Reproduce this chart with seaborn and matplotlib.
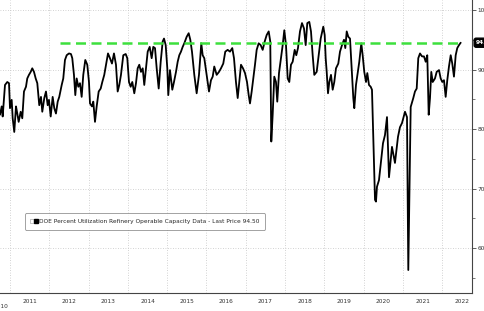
import matplotlib
matplotlib.use("Agg")
import matplotlib.pyplot as plt
import seaborn as sns
import pandas as pd
from matplotlib.lines import Line2D
from matplotlib.legend_handler import HandlerTuple
from matplotlib.ticker import FixedLocator, FixedFormatter

# ---- data (decimal year, percent utilization) ----
t_year = [2010.746, 2010.789, 2010.814, 2010.873, 2010.931, 2010.975, 2011.000, 2011.043, 2011.069, 2011.109,
          2011.153, 2011.186, 2011.221, 2011.272, 2011.313, 2011.356, 2011.407, 2011.440, 2011.483, 2011.527,
          2011.567, 2011.611, 2011.654, 2011.695, 2011.745, 2011.789, 2011.822, 2011.873, 2011.916, 2011.959,
          2011.992, 2012.036, 2012.086, 2012.127, 2012.170, 2012.214, 2012.254, 2012.316, 2012.356, 2012.399,
          2012.443, 2012.501, 2012.552, 2012.585, 2012.628, 2012.662, 2012.697, 2012.738, 2012.781, 2012.824,
          2012.865, 2012.916, 2012.967, 2013.010, 2013.036, 2013.086, 2013.120, 2013.163, 2013.206, 2013.257,
          2013.308, 2013.349, 2013.399, 2013.443, 2013.494, 2013.544, 2013.595, 2013.646, 2013.697, 2013.740,
          2013.781, 2013.824, 2013.883, 2013.944, 2013.985, 2014.028, 2014.071, 2014.112, 2014.163, 2014.206,
          2014.249, 2014.290, 2014.333, 2014.377, 2014.417, 2014.461, 2014.504, 2014.555, 2014.605, 2014.646,
          2014.690, 2014.733, 2014.784, 2014.835, 2014.885, 2014.919,
          2014.962, 2015.003, 2015.028, 2015.071, 2015.130, 2015.173, 2015.224, 2015.267, 2015.308, 2015.351,
          2015.394, 2015.435, 2015.496, 2015.547, 2015.588, 2015.631, 2015.690, 2015.750, 2015.809, 2015.868,
          2015.903, 2015.944, 2016.005, 2016.064, 2016.114, 2016.158, 2016.198, 2016.259, 2016.318, 2016.369,
          2016.427, 2016.478, 2016.539, 2016.598, 2016.656, 2016.700, 2016.750, 2016.794, 2016.834, 2016.878,
          2016.929, 2016.980, 2017.031, 2017.074, 2017.107, 2017.150, 2017.191, 2017.234, 2017.277, 2017.328,
          2017.379, 2017.430, 2017.481, 2017.532, 2017.583, 2017.623, 2017.649, 2017.684, 2017.725, 2017.768,
          2017.801, 2017.845, 2017.896, 2017.939, 2017.980, 2018.023, 2018.066, 2018.107, 2018.150, 2018.193,
          2018.244, 2018.285, 2018.328, 2018.379, 2018.430, 2018.481, 2018.524, 2018.565, 2018.616, 2018.659,
          2018.702, 2018.743, 2018.804, 2018.855, 2018.906, 2018.947,
          2018.972, 2019.008, 2019.033, 2019.059, 2019.092, 2019.125, 2019.168, 2019.211, 2019.252, 2019.295,
          2019.354, 2019.397, 2019.448, 2019.499, 2019.532, 2019.568, 2019.608, 2019.652, 2019.695, 2019.736,
          2019.761, 2019.804, 2019.847, 2019.888, 2019.939, 2019.974, 2020.015, 2020.059, 2020.092, 2020.135,
          2020.178, 2020.211,
          2020.288, 2020.313, 2020.338, 2020.389, 2020.440, 2020.491, 2020.542, 2020.593, 2020.644, 2020.720,
          2020.796, 2020.873, 2020.923, 2020.975, 2021.051, 2021.102, 2021.135, 2021.196,
          2021.262, 2021.305, 2021.349, 2021.389, 2021.433, 2021.484, 2021.534, 2021.578, 2021.618, 2021.654,
          2021.687, 2021.720, 2021.756, 2021.814, 2021.857, 2021.916, 2021.959, 2022.000, 2022.043, 2022.086,
          2022.127, 2022.170, 2022.214, 2022.254, 2022.297, 2022.341, 2022.381, 2022.425, 2022.468]
utilization = [82.4, 83.8, 82.1, 87.4, 87.9, 87.7, 83.5, 84.9, 81.8, 79.5,
               83.8, 82.6, 81.2, 82.9, 81.8, 86.3, 87.1, 88.5, 89.1, 89.6,
               90.2, 89.6, 88.5, 87.7, 84.0, 85.4, 82.9, 85.2, 86.3, 84.0,
               84.9, 82.1, 85.4, 83.5, 82.6, 84.6, 85.4, 87.4, 88.5, 91.6,
               92.4, 92.7, 92.6, 91.9, 89.1, 85.7, 88.5, 87.1, 87.7, 85.4,
               89.1, 91.6, 90.8, 87.9, 84.3, 83.8, 84.6, 81.2, 83.8, 86.3,
               86.8, 87.9, 89.1, 90.8, 92.7, 91.9, 91.0, 92.7, 90.8, 86.3,
               87.4, 89.1, 92.4, 92.6, 91.9, 87.9, 87.1, 87.9, 86.0, 87.7,
               90.2, 90.8, 89.6, 90.2, 87.4, 90.2, 93.0, 93.8, 91.9, 93.8,
               93.6, 90.2, 86.8, 91.3, 94.7, 95.2,
               94.1, 90.2, 85.7, 89.9, 86.6, 87.9, 89.6, 91.3, 92.4, 93.0,
               93.8, 94.4, 95.5, 96.1, 95.0, 93.0, 89.1, 86.0, 89.1, 94.4,
               92.4, 91.9, 89.1, 86.3, 88.2, 88.8, 90.5, 89.1, 89.6, 90.2,
               91.0, 93.0, 93.3, 93.0, 93.6, 91.9, 87.9, 85.2, 87.9, 90.8,
               90.2, 89.4, 87.9, 85.7, 84.3, 86.3, 88.5, 90.8, 93.3, 94.4,
               94.1, 93.3, 94.7, 95.8, 96.4, 94.7, 77.9, 82.4, 88.8, 87.9,
               84.6, 89.4, 91.9, 94.1, 96.6, 94.1, 88.5, 87.9, 90.8, 91.3,
               93.3, 92.4, 93.6, 96.4, 97.8, 96.9, 94.1, 97.8, 98.0, 96.4,
               92.4, 89.1, 89.6, 92.4, 95.2, 96.4,
               97.2, 95.8, 91.9, 89.6, 86.0, 87.9, 89.1, 86.6, 87.9, 90.2,
               91.0, 93.0, 94.1, 95.0, 93.6, 96.4, 95.5, 95.2, 90.2, 85.2,
               83.5, 87.4, 89.4, 91.3, 94.4, 92.4, 89.6, 87.9, 89.4, 87.4,
               87.1, 86.6,
               68.1, 67.8, 70.3, 71.4, 74.5, 77.6, 79.0, 82.0, 71.9, 77.0,
               74.3, 78.7, 80.3, 81.0, 82.9, 82.0, 56.3, 83.7,
               85.2, 86.3, 86.8, 91.9, 92.7, 92.2, 92.2, 91.3, 92.4, 82.4,
               85.2, 89.6, 87.9, 88.5, 89.6, 89.9, 88.5, 87.9, 88.2, 85.4,
               88.2, 90.5, 92.4, 91.0, 88.8, 92.4, 93.6, 94.1, 94.5]
assert len(t_year) == len(utilization)

last_price = 94.50
ref_line_start = 2012.27
ref_line_end = 2022.468
year_labels = [str(y) for y in range(2011, 2023)]
y_ticks = [60, 70, 80, 90, 100]
series_name = "DOE Percent Utilization Refinery Operable Capacity Data - Last Price 94.50"

df = pd.DataFrame({"year": t_year, "util": utilization})

sns.set_style("white")
plt.rcParams['font.family'] = ['DejaVu Sans']

fig = plt.figure(figsize=(4.85, 3.11), dpi=100)
ax = fig.add_axes([0.0, 18 / 311, 472 / 485, 293 / 311])

sns.lineplot(data=df, x="year", y="util", ax=ax, color="black", linewidth=1.3)
sns.lineplot(x=[ref_line_start, ref_line_end], y=[last_price, last_price], ax=ax,
             color="#3de03d", linewidth=1.8, linestyle=(0, (4, 2.2)))

ax.set_xlim(2010.746, 2022.756)
ax.set_ylim(52.44, 101.68)
ax.set_xlabel("")
ax.set_ylabel("")

for s in ["top", "left"]:
    ax.spines[s].set_visible(False)
for s in ["right", "bottom"]:
    ax.spines[s].set_visible(True)
    ax.spines[s].set_color("#444444")
    ax.spines[s].set_linewidth(0.8)

# y axis on the right
ax.yaxis.tick_right()
ax.set_yticks(y_ticks)
ax.set_yticklabels([str(v) for v in y_ticks])
ax.yaxis.set_minor_locator(FixedLocator([55, 65, 75, 85, 95]))
ax.tick_params(axis="y", which="major", direction="out", length=3, width=0.6,
               color="#444444", labelsize=4.2, labelcolor="#333333", pad=1)
ax.tick_params(axis="y", which="minor", direction="out", length=2, width=0.5, color="#444444")

# x axis: year boundaries as ticks, labels centred in each year
ax.set_xticks(list(range(2011, 2023)))
ax.set_xticklabels([])
ax.xaxis.set_minor_locator(FixedLocator([y + 0.5 for y in range(2011, 2023)]))
ax.xaxis.set_minor_formatter(FixedFormatter(year_labels))
ax.tick_params(axis="x", which="major", direction="out", length=15, width=0.5, color="#888888")
ax.tick_params(axis="x", which="minor", direction="out", length=0, labelsize=4.2,
               labelcolor="#333333", pad=4)
ax.text(2010.77, -0.045, "2010", transform=ax.get_xaxis_transform(), ha="center", va="center",
        fontsize=4.2, color="#333333", clip_on=False)

ax.grid(True, which="major", axis="both", linestyle=(0, (1, 2)), color="#c4c4c4", linewidth=0.6)

# last value tag
ax.annotate(f"{last_price:.2f}", xy=(1.0, last_price), xycoords=("axes fraction", "data"),
            xytext=(3.0, 0), textcoords="offset points", ha="left", va="center",
            fontsize=4.2, color="white", fontweight="bold",
            bbox=dict(boxstyle="round,pad=0.35", fc="black", ec="black"),
            annotation_clip=False)

h_small = Line2D([], [], marker="s", markerfacecolor="white", markeredgecolor="#999999",
                 markeredgewidth=0.4, linestyle="none", markersize=2.2)
h_big = Line2D([], [], marker="s", color="black", linestyle="none", markersize=3.5)
leg = ax.legend([(h_small, h_big)], [series_name], loc="center left", bbox_to_anchor=(0.053, 0.244),
                handler_map={tuple: HandlerTuple(ndivide=None, pad=0.1)},
                fontsize=4.2, frameon=True, fancybox=True, borderaxespad=0, handletextpad=0.3,
                handlelength=1.2, borderpad=0.95, edgecolor="#777777")
leg.get_frame().set_linewidth(0.6)

fig.savefig("out.png", dpi=100)
